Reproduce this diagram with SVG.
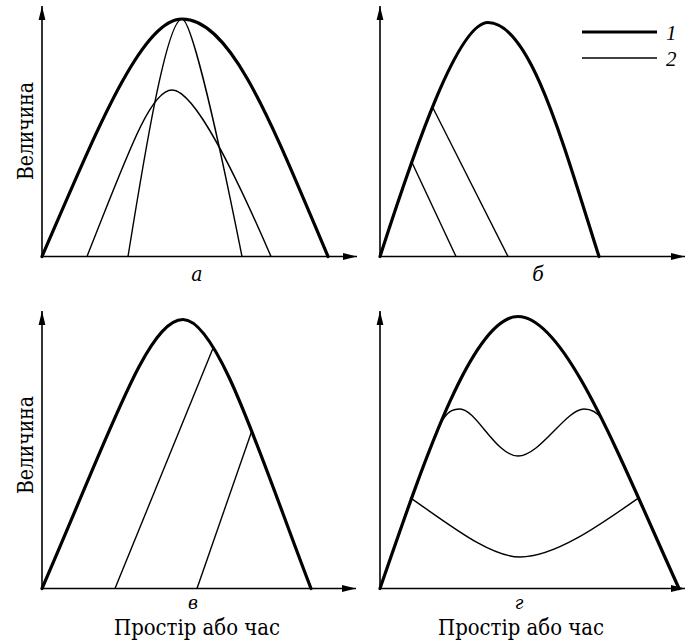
<svg xmlns="http://www.w3.org/2000/svg" width="685" height="640" viewBox="0 0 685 640">
<style>
.ax{fill:none;stroke:#000;stroke-width:1.6;marker-end:url(#arr)}
.thick{fill:none;stroke:#000;stroke-width:3.2;stroke-linecap:round}
.thin{fill:none;stroke:#000;stroke-width:1.4}
text{font-family:"DejaVu Serif Condensed","DejaVu Serif","Liberation Serif",serif;fill:#000}
.lab{font-size:21px;text-anchor:middle;font-style:italic}
.cap{font-size:22px;text-anchor:middle}
.leg{font-size:21px;font-style:italic;font-family:"Liberation Serif",serif}
</style>
<defs>
<marker id="arr" markerWidth="14" markerHeight="8" refX="14" refY="4" orient="auto" markerUnits="userSpaceOnUse">
<path d="M0,0.6 L14,4 L0,7.4 Z" fill="#000"/>
</marker>
</defs>
<rect width="685" height="640" fill="#fff"/>

<g id="panel-a">
<text class="cap" transform="translate(33,131) rotate(-90)" textLength="98" lengthAdjust="spacingAndGlyphs">Величина</text>
<path class="thick" d="M42,256.5 C97,129.5 142,19 182,19 C232,19 273,127 328,256.5"/>
<path class="thin" d="M128,256.5 C142,170 166,19 182,19 C190,19 212,106 242,256.5"/>
<path class="thin" d="M87,256.5 C127,156 150,90 172,90 C195,90 236,175.5 271,256.5"/>
<text class="lab" x="197" y="281">а</text>
</g>

<g id="panel-b">
<path class="thick" d="M380,256.5 C415,148 458,22.5 488,22.5 C530,22.5 562,140 599,256.5"/>
<path class="thin" d="M411.5,161.5 L456,256.5"/>
<path class="thin" d="M432.5,107 L508,256.5"/>
<text class="lab" x="538" y="281">б</text>
</g>

<g id="legend">
<line x1="582" y1="32" x2="657" y2="32" stroke="#000" stroke-width="3.2"/>
<line x1="582" y1="58" x2="657" y2="58" stroke="#000" stroke-width="1.4"/>
<text class="leg" x="666" y="40">1</text>
<text class="leg" x="666" y="66">2</text>
</g>

<g id="panel-v">
<text class="cap" transform="translate(33,445) rotate(-90)" textLength="98" lengthAdjust="spacingAndGlyphs">Величина</text>
<path class="thick" d="M42,588.5 C112,427.5 148,319.5 183,319.5 C218,319.5 261,458.5 311,588.5"/>
<path class="thin" d="M115,588.5 L213.3,347.5"/>
<path class="thin" d="M197,588.5 L251.8,431"/>
<text class="lab" x="193" y="609" style="font-size:19px">в</text>
<text class="cap" x="197" y="635" textLength="166" lengthAdjust="spacingAndGlyphs">Простір або час</text>
</g>

<g id="panel-g">
<path class="thick" d="M380,588.5 C425,458 473,316.5 518,316.5 C565,316.5 619,456.5 679,588.5"/>
<path class="thin" d="M440.5,423.5 C447,412 452,409 460,409 C476,409 496,456 518,456 C540,456 566,409 584,409 C592,409 597,412 602,419"/>
<path class="thin" d="M411.5,498.6 C450,525 490,557 520,557 C555,557 600,525 638.5,498"/>
<text class="lab" x="519" y="609" style="font-size:19px">г</text>
<text class="cap" x="521" y="635" textLength="166" lengthAdjust="spacingAndGlyphs">Простір або час</text>
</g>

<g id="axes">
<path class="ax" d="M42,256.5 L42,6"/>
<path class="ax" d="M42,256.5 L357,256.5"/>
<path class="ax" d="M380,256.5 L380,6"/>
<path class="ax" d="M380,256.5 L685,256.5"/>
<path class="ax" d="M42,588.5 L42,311"/>
<path class="ax" d="M42,588.5 L356,588.5"/>
<path class="ax" d="M380,588.5 L380,311"/>
<path class="ax" d="M380,588.5 L685,588.5"/>
</g>
</svg>
